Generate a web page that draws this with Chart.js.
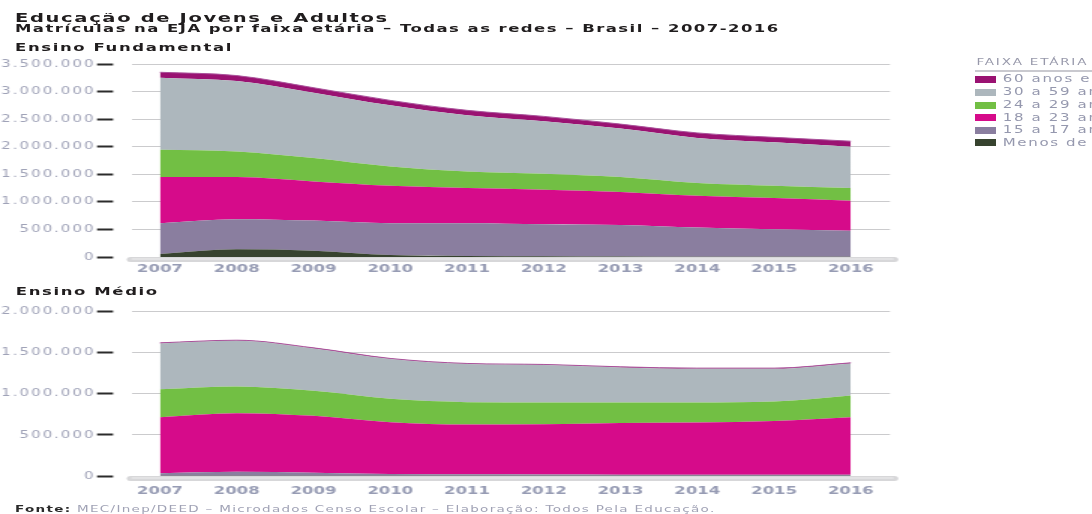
<!DOCTYPE html>
<html lang="pt-BR">
<head>
<meta charset="utf-8">
<title>EJA - Matrículas por faixa etária</title>
<script src="https://cdn.jsdelivr.net/npm/chart.js@4.4.1/dist/chart.umd.min.js"></script>
<style>
  html, body { margin: 0; padding: 0; width: 1092px; height: 514px; overflow: hidden; background: #fff; }
  /* a figura original está esticada na horizontal, por isso tudo é desenhado a 728px e esticado 1.5x */
  #page { position: absolute; left: 0; top: 0; width: 728px; height: 514px; transform: scaleX(1.5); transform-origin: 0 0; font-family: "DejaVu Sans", sans-serif; }
  .txt { position: absolute; white-space: nowrap; line-height: 1; letter-spacing: 1px; }
  .bold { font-weight: bold; color: #201d1e; }
  canvas { position: absolute; left: 0; }
  #clip_title { position: absolute; left: 10px; top: 13px; width: 320px; height: 12px; overflow: hidden; }
  .leg_box { position: absolute; left: 649.5px; width: 14.5px; height: 7px; }
  .leg_txt { position: absolute; left: 668.5px; font-size: 10px; line-height: 1; color: #9598ae; white-space: nowrap; letter-spacing: 1.1px; }
</style>
</head>
<body>
<div id="page">
  <div id="clip_title"><div class="txt bold" style="left:0; top:-2px; font-size:13px; letter-spacing:1.1px;">Educação de Jovens e Adultos</div></div>
  <div class="txt bold" style="left:10px; top:23.4px; font-size:11px; letter-spacing:0.97px;">Matrículas na EJA por faixa etária – Todas as redes – Brasil – 2007-2016</div>
  <div class="txt bold" style="left:10px; top:42.4px; font-size:11px; letter-spacing:1.07px;">Ensino Fundamental</div>
  <div class="txt bold" style="left:10.5px; top:285.7px; font-size:11px; letter-spacing:1.07px;">Ensino Médio</div>

  <canvas id="chart_fund" width="600" height="230" style="top:55px;"></canvas>
  <canvas id="chart_med" width="600" height="200" style="top:300px;"></canvas>

  <div class="txt" style="left:651px; top:58px; font-size:9px; color:#9798aa; letter-spacing:1.2px;">FAIXA ETÁRIA</div>
  <div style="position:absolute; left:650px; top:70px; width:100px; height:1.5px; background:#c9c9cf;"></div>
  <div id="legend"></div>

  <div class="txt" style="left:10px; top:504.9px; font-size:9px; color:#a0a2b5; letter-spacing:0.87px;"><b style="color:#2a2a2a;">Fonte:</b> MEC/Inep/DEED – Microdados Censo Escolar – Elaboração: Todos Pela Educação.</div>
</div>

<script>
// ▰▰▰▰▰▰▰▰▰▰ DADOS ▰▰▰▰▰▰▰▰▰▰
const years = [2007, 2008, 2009, 2010, 2011, 2012, 2013, 2014, 2015, 2016];

const faixa_labels = ["Menos de 15 anos", "15 a 17 anos", "18 a 23 anos", "24 a 29 anos", "30 a 59 anos", "60 anos e mais"];

// Ensino Fundamental
const fund_menos15 = [55000, 140000, 115000, 35000, 20000, 15000, 10000, 5000, 5000, 5000];
const fund_15a17 = [558000, 545000, 545000, 578000, 593000, 580000, 572000, 528000, 499000, 473000];
const fund_18a23 = [837000, 765000, 710000, 677000, 637000, 625000, 598000, 577000, 566000, 542000];
const fund_24a29 = [495000, 465000, 425000, 350000, 300000, 290000, 270000, 230000, 220000, 230000];
const fund_30a59 = [1305000, 1275000, 1185000, 1110000, 1020000, 950000, 880000, 820000, 790000, 750000];
const fund_60mais = [100000, 100000, 90000, 90000, 90000, 90000, 80000, 90000, 90000, 100000];

// Ensino Médio
const med_menos15 = [3000, 3000, 3000, 2000, 2000, 2000, 2000, 2000, 2000, 2000];
const med_15a17 = [30000, 49000, 37000, 23000, 18000, 16000, 14000, 13000, 13000, 13000];
const med_18a23 = [683000, 713000, 692000, 630000, 606000, 612000, 630000, 635000, 655000, 701000];
const med_24a29 = [341000, 325000, 305000, 284000, 273000, 264000, 248000, 244000, 236000, 263000];
const med_30a59 = [556000, 555000, 515000, 484000, 463000, 456000, 427000, 411000, 399000, 391000];
const med_60mais = [8000, 8000, 8000, 8000, 8000, 8000, 8000, 8000, 8000, 8000];

// rótulos do eixo y
const fund_ticks = [0, 500000, 1000000, 1500000, 2000000, 2500000, 3000000, 3500000];
const med_ticks = [0, 500000, 1000000, 1500000, 2000000];

const faixa_colors = ["#37432f", "#8a7e9f", "#d60b8a", "#72bf44", "#adb7bd", "#9a1272"];

// ▰▰▰▰▰▰▰▰▰▰ LEGENDA (de cima para baixo) ▰▰▰▰▰▰▰▰▰▰
const leg_centers = [79.3, 92.3, 105, 117.7, 130, 142.7];
let legend_html = "";
for (let i = 0; i < 6; i++) {
  const k = 5 - i;
  legend_html += '<div class="leg_box" style="top:' + (leg_centers[i] - 3.5) + 'px; background:' + faixa_colors[k] + ';"></div>';
  legend_html += '<div class="leg_txt" style="top:' + (leg_centers[i] - 4.9) + 'px;">' + faixa_labels[k] + '</div>';
}
document.getElementById("legend").innerHTML = legend_html;

// ▰▰▰▰▰▰▰▰▰▰ FUNÇÕES ▰▰▰▰▰▰▰▰▰▰
function fmt_br(n) {
  return String(n).replace(/\B(?=(\d{3})+(?!\d))/g, ".");
}

// barra cinza do eixo x
const axis_bar = {
  id: "axis_bar",
  beforeDatasetsDraw(chart) {
    const { ctx, chartArea, scales } = chart;
    const y0 = scales.y.getPixelForValue(0) + 2.5;
    ctx.save();
    ctx.lineCap = "round";
    ctx.strokeStyle = "#d7d7d9";
    ctx.lineWidth = 5;
    ctx.beginPath();
    ctx.moveTo(chartArea.left - 1, y0);
    ctx.lineTo(chartArea.right + 3, y0);
    ctx.stroke();
    ctx.strokeStyle = "#eeeeef";
    ctx.lineWidth = 1;
    ctx.beginPath();
    ctx.moveTo(chartArea.left, y0 - 0.5);
    ctx.lineTo(chartArea.right + 2, y0 - 0.5);
    ctx.stroke();
    ctx.restore();
  },
  // rótulos do eixo y (z: 1) saem espaçados como no original
  afterDatasetsDraw(chart) {
    chart.ctx.letterSpacing = "1.33px";
  },
  afterDraw(chart) {
    chart.ctx.letterSpacing = "0px";
  }
};

function make_datasets(series) {
  return series.map((arr, i) => ({
    label: faixa_labels[i],
    data: years.map((yr, j) => ({ x: yr, y: arr[j] })),
    backgroundColor: faixa_colors[i],
    borderColor: i === 5 ? "#a9519a" : faixa_colors[i],
    borderWidth: i === 5 ? 1 : 0,
    pointRadius: 0,
    fill: i === 0 ? "origin" : "-1",
    cubicInterpolationMode: "monotone",
  }));
}

function make_config(series, ticks_list, pad_top, x_height, x_pad) {
  return {
    type: "line",
    data: { datasets: make_datasets(series) },
    plugins: [axis_bar],
    options: {
      responsive: false,
      animation: false,
      layout: { padding: { top: pad_top, right: 6.7, bottom: 0, left: 0 } },
      plugins: { legend: { display: false }, tooltip: { enabled: false } },
      scales: {
        x: {
          type: "linear",
          min: 2006.635,
          max: 2016.51,
          grid: { display: false, drawTicks: false },
          border: { display: false },
          afterBuildTicks: (scale) => { scale.ticks = years.map(v => ({ value: v })); },
          afterFit: (scale) => { scale.height = x_height; },
          ticks: {
            padding: x_pad,
            autoSkip: false,
            maxRotation: 0,
            color: "#979cb4",
            font: { family: "DejaVu Sans", size: 11, weight: "bold" },
            callback: (v) => String(v),
          },
        },
        y: {
          stacked: true,
          min: 0,
          max: ticks_list[ticks_list.length - 1],
          border: { display: false },
          grid: {
            color: (c) => (c.tick && c.tick.value === 0 ? "rgba(0,0,0,0)" : "#cbcbcd"),
            lineWidth: 1,
            tickColor: "#2b2b2b",
            tickWidth: 2,
            tickLength: 23.3,
            tickBorderDash: [10.7, 14],
          },
          afterBuildTicks: (scale) => { scale.ticks = ticks_list.map(v => ({ value: v })); },
          afterFit: (scale) => { scale.width = 88; },
          ticks: {
            z: 1,
            padding: 1,
            color: "#a0a3b8",
            font: { family: "DejaVu Sans", size: 10 },
            callback: (v) => fmt_br(v),
          },
        },
      },
    },
  };
}

// ▰▰▰▰▰▰▰▰▰▰ GRÁFICOS ▰▰▰▰▰▰▰▰▰▰
const chart_fund = new Chart(
  document.getElementById("chart_fund"),
  make_config([fund_menos15, fund_15a17, fund_18a23, fund_24a29, fund_30a59, fund_60mais], fund_ticks, 9, 28, 6)
);

const chart_med = new Chart(
  document.getElementById("chart_med"),
  make_config([med_menos15, med_15a17, med_18a23, med_24a29, med_30a59, med_60mais], med_ticks, 11.7, 24, 8.5)
);
</script>
</body>
</html>
